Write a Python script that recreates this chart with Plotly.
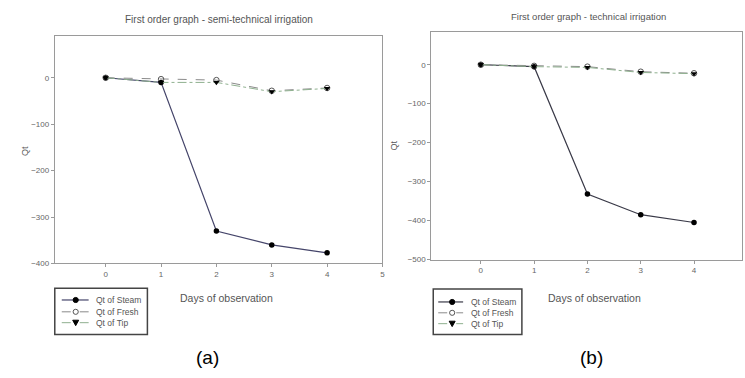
import plotly.graph_objects as go

days = [0, 1, 2, 3, 4]
# (a) semi-technical irrigation
a_steam = [0, -10, -330, -360, -377]
a_fresh = [0, -3, -5, -28, -22]
a_tip = [0, -10, -10, -30, -23]
# (b) technical irrigation
b_steam = [0, -5, -332, -385, -405]
b_fresh = [0, -3, -5, -18, -22]
b_tip = [0, -5, -7, -20, -23]

xticks = [0, 1, 2, 3, 4, 5]
a_yticks = [0, -100, -200, -300, -400]
b_yticks = [0, -100, -200, -300, -400, -500]
series_names = ["Qt of Steam", "Qt of Fresh", "Qt of Tip"]

W, H = 745, 378
def px(x): return x / W
def py(y): return 1 - y / H

FRESH_C = "#8a8a8a"
TIP_C = "#8fb08f"
TXT_C = "#555555"
FONT = "Liberation Sans, Arial, sans-serif"

def make_styles(steam_color):
    return [
        dict(line=dict(color=steam_color, width=1.2),
             marker=dict(symbol="circle", size=5.5, color="black")),
        dict(line=dict(color=FRESH_C, width=1, dash="dash"),
             marker=dict(symbol="circle-open", size=5.5, color="#555555", line=dict(width=1))),
        dict(line=dict(color=TIP_C, width=1, dash="dashdot"),
             marker=dict(symbol="triangle-down", size=5.5, color="black")),
    ]

styles_a = make_styles("#45456a")
styles_b = make_styles("#3a3a48")

fig = go.Figure()

def add_set(xa, ya, values, styles):
    for name, vals, st in zip(series_names, values, styles):
        fig.add_trace(go.Scatter(x=days, y=vals, xaxis=xa, yaxis=ya, name=name,
                                 mode="lines+markers", showlegend=False, **st))

add_set("x", "y", [a_steam, a_fresh, a_tip], styles_a)
add_set("x2", "y2", [b_steam, b_fresh, b_tip], styles_b)

axcommon = dict(showgrid=False, zeroline=False, showline=True, linecolor="#9a9a9a",
                linewidth=1, mirror=True, ticks="outside", ticklen=3, tickcolor="#9a9a9a",
                tickfont=dict(size=8, color="#666666", family=FONT))

fig.update_layout(
    width=W, height=H, margin=dict(l=0, r=0, t=0, b=0),
    paper_bgcolor="white", plot_bgcolor="white",
    font=dict(family=FONT),
    xaxis=dict(domain=[px(55), px(384)], range=[-0.92, 5.0], anchor="y",
               tickvals=xticks, **axcommon),
    yaxis=dict(domain=[py(267), py(36)], range=[-400, 91], anchor="x",
               tickvals=a_yticks, **axcommon),
    xaxis2=dict(domain=[px(433), 1.0], range=[-0.93, 4.9], anchor="y2",
                tickvals=xticks, **axcommon),
    yaxis2=dict(domain=[py(263), py(32)], range=[-500, 85], anchor="x2",
                tickvals=b_yticks, **axcommon),
    showlegend=False,
)

def text(t, x, y, size, color=TXT_C, angle=0, anchor="center"):
    fig.add_annotation(text=t, x=px(x), y=py(y), xref="paper", yref="paper",
                       showarrow=False, xanchor=anchor, yanchor="middle", textangle=angle,
                       font=dict(size=size, color=color, family=FONT))

text("First order graph - semi-technical irrigation", 220, 20, 10)
text("First order graph - technical irrigation", 591, 17, 9.5)
text("Days of observation", 227, 302, 10.5)
text("Days of observation", 597, 302, 10.5)
text("(a)", 208, 362, 19, color="black")
text("(b)", 594, 362, 19, color="black")
text("Qt", 25, 153, 9, angle=-90)
text("Qt", 396, 147, 9, angle=-90)

# custom compact legends
def legend(box, rows, x0, x1, xm, xt, styles):
    bx0, by0, bx1, by1 = box
    fig.add_shape(type="rect", xref="paper", yref="paper",
                  x0=px(bx0), x1=px(bx1), y0=py(by1), y1=py(by0),
                  line=dict(color="#444444", width=1.5), fillcolor="white")
    for name, st, ry in zip(series_names, styles, rows):
        ln = st["line"]
        fig.add_shape(type="line", xref="paper", yref="paper",
                      x0=px(x0), x1=px(x1), y0=py(ry), y1=py(ry),
                      line=dict(color=ln["color"], width=ln["width"], dash=ln.get("dash", "solid")))
        sym = st["marker"]["symbol"]
        r = 2.6
        if sym == "circle":
            fig.add_shape(type="circle", xref="paper", yref="paper",
                          x0=px(xm - r), x1=px(xm + r), y0=py(ry + r), y1=py(ry - r),
                          fillcolor="black", line=dict(color="black", width=1))
        elif sym == "circle-open":
            fig.add_shape(type="circle", xref="paper", yref="paper",
                          x0=px(xm - r), x1=px(xm + r), y0=py(ry + r), y1=py(ry - r),
                          fillcolor="white", line=dict(color="#555555", width=1))
        else:
            path = "M {:.5f} {:.5f} L {:.5f} {:.5f} L {:.5f} {:.5f} Z".format(
                px(xm - 3), py(ry - 2.5), px(xm + 3), py(ry - 2.5), px(xm), py(ry + 3))
            fig.add_shape(type="path", xref="paper", yref="paper", path=path,
                          fillcolor="black", line=dict(color="black", width=1))
        text(name, xt, ry, 8.5, anchor="left")

legend((55, 292, 148, 339), [304, 316, 327], 62, 89, 76, 94, styles_a)
legend((435, 293, 524, 339), [306, 317, 328], 440, 465, 454, 471, styles_b)

fig.write_html("out.html")
